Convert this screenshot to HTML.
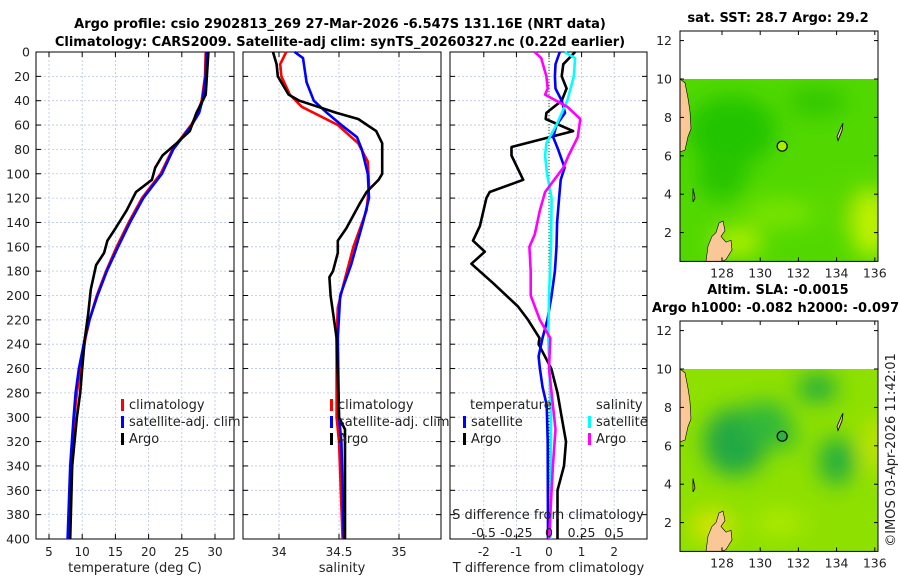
<!DOCTYPE html>
<html><head><meta charset="utf-8"><style>
body{margin:0;background:#fff;font-family:"Liberation Sans","DejaVu Sans",sans-serif}
svg text{font-family:"DejaVu Sans","Liberation Sans",sans-serif}
</style></head><body>
<svg id="c" width="900" height="580" viewBox="0 0 900 580" xmlns="http://www.w3.org/2000/svg">
<defs>
<filter id="bl" x="-50%" y="-50%" width="200%" height="200%"><feGaussianBlur stdDeviation="11"/></filter>
<clipPath id="m1"><rect x="680" y="79" width="198" height="182"/></clipPath>
<clipPath id="m2"><rect x="680" y="369" width="198" height="182"/></clipPath>
</defs>
</svg>
<script>
// ---- data ----
const tDepth=[0,20,40,50,60,80,100,120,140,160,180,200,220,235,260,280,300,340,400];
const tSat=[28.7,28.6,28.1,27.6,26.5,23.7,22.0,19.2,17.2,15.4,13.7,12.3,11.1,10.4,9.5,9.0,8.7,8.2,7.8];
const tClim=[28.6,28.5,28.0,27.4,26.4,23.6,21.8,19.0,17.0,15.2,13.6,12.2,11.1,10.5,9.7,9.2,8.8,8.3,7.9];
const aDepth=[0,35,50,65,75,85,95,105,115,130,145,155,165,175,195,215,235,260,280,300,340,400];
const tArgo=[29.0,28.6,27.2,26.2,24.2,22.1,21.0,20.5,18.1,16.7,15.0,13.8,13.3,12.1,11.3,10.9,10.4,10.0,9.7,9.2,8.5,8.2];
const sDepthA=[0,10,20,35,40,50,55,65,75,100,105,115,125,145,155,165,180,185,200,235,300,310,400];
const sArgo=[33.95,33.98,33.99,34.08,34.17,34.48,34.66,34.81,34.86,34.86,34.83,34.73,34.67,34.56,34.49,34.49,34.45,34.42,34.43,34.48,34.50,34.55,34.55];
const sDepthC=[0,10,20,35,45,60,75,90,110,130,160,175,190,210,235,300,320,400];
const sClim=[34.06,34.01,34.02,34.09,34.19,34.49,34.66,34.74,34.75,34.73,34.62,34.58,34.54,34.49,34.48,34.48,34.50,34.53];
const sDepthS=[0,5,25,40,50,60,70,80,100,120,140,175,200,235,300,320,400];
const sSat=[34.13,34.20,34.23,34.29,34.40,34.52,34.65,34.69,34.74,34.75,34.70,34.60,34.51,34.49,34.50,34.52,34.54];
const dDepthTA=[0,10,20,30,40,50,55,65,78,85,105,115,120,143,155,164,174,190,209,220,235,240,260,280,300,320,340,360,400];
const dTArgo=[0.8,0.44,0.39,0.54,0.39,-0.08,-0.1,0.74,-1.15,-1.15,-0.79,-1.82,-1.92,-2.12,-2.33,-1.97,-2.38,-1.71,-0.95,-0.64,-0.29,-0.32,0.07,0.26,0.39,0.52,0.46,0.26,0.26];
const dDepthTS=[0,10,20,30,40,50,60,70,80,95,105,120,140,160,180,200,220,235,250,260,275,290,320,400];
const dTSat=[0.33,0.2,0.18,0.2,0.39,0.49,0.23,0.13,0.28,0.48,0.36,0.31,0.25,0.23,0.18,0.08,-0.05,-0.2,-0.32,-0.28,-0.2,-0.07,-0.04,-0.03];
const dDepthSS=[0,5,20,40,60,75,85,100,120,160,200,235,300,400];
const dSSat=[0.12,0.2,0.19,0.14,0.057,-0.02,-0.03,-0.015,0.02,0.015,0,-0.005,0.015,0.01];
const dDepthSA=[0,5,20,30,35,45,55,70,85,95,105,115,130,150,160,180,200,220,235,260,290,310,340,400];
const dSArgo=[-0.11,-0.06,-0.02,-0.01,-0.03,0.14,0.24,0.22,0.15,0.11,0.04,-0.03,-0.07,-0.11,-0.15,-0.14,-0.14,-0.07,0.01,0,0.03,0.05,0.03,0];
const depthTicks=[0,20,40,60,80,100,120,140,160,180,200,220,240,260,280,300,320,340,360,380,400];
const tTicks=[5,10,15,20,25,30];
const sTicks=[34,34.5,35];
const dTTicks=[-2,-1,0,1,2];
const dSTickLabels=["-0.5","-0.25","0","0.25","0.5"];
const dSTicks=[-0.5,-0.25,0,0.25,0.5];
const lonTicks=[128,130,132,134,136];
const latTicks=[2,4,6,8,10,12];

// ---- scales ----
const Y0=52, Y1=539;
const yD=d=>Y0+(d/400)*(Y1-Y0);
const xT=t=>49+(t-5)*6.64;
const xS=s=>279+(s-34)*120;
const xDT=v=>549+v*32.6;
const xDS=v=>549+v*130.4;
const xLon=l=>722+(l-128)*19.1;
const yLat1=l=>79-(l-10)*19.2;
const yLat2=l=>369-(l-10)*19.2;

const svg=document.getElementById('c');
const NS='http://www.w3.org/2000/svg';
function el(tag,attrs,parent){const e=document.createElementNS(NS,tag);for(const k in attrs)e.setAttribute(k,attrs[k]);(parent||svg).appendChild(e);return e;}
function txt(x,y,s,attrs,parent){const e=el('text',Object.assign({x:x,y:y,'font-size':12,fill:'#222'},attrs||{}),parent);e.textContent=s;return e;}

function panel(name,x0,x1,xticks,xf,labels,xlabel){
  const g=el('g',{});
  
  
  xticks.forEach((t,i)=>{const x=xf(t);
    el('line',{x1:x,x2:x,y1:Y0,y2:Y1,stroke:'#b8c4e8','stroke-width':0.8,'stroke-dasharray':'2,2'},g);
    el('line',{x1:x,x2:x,y1:Y1,y2:Y1-5,stroke:'#000'},g);
    el('line',{x1:x,x2:x,y1:Y0,y2:Y0+5,stroke:'#000'},g);
    if(labels){const l=txt(x,556,labels[i],{'text-anchor':'middle'},g);
      
      }
  });
  depthTicks.forEach(d=>{const y=yD(d);
    el('line',{x1:x0,x2:x1,y1:y,y2:y,stroke:'#b8c4e8','stroke-width':0.8,'stroke-dasharray':'2,2'},g);
    el('line',{x1:x0,x2:x0+5,y1:y,y2:y,stroke:'#000'},g);
    el('line',{x1:x1,x2:x1-5,y1:y,y2:y,stroke:'#000'},g);
  });
  el('rect',{x:x0,y:Y0,width:x1-x0,height:Y1-Y0,fill:'none',stroke:'#000','stroke-width':1},g);
  if(xlabel){const l=txt((x0+x1)/2,572,xlabel,{'text-anchor':'middle','font-size':13},g);
    
    }
  return g;
}
function line(name,xs,ds,xf,color){
  const p=xs.map((v,i)=>xf(v).toFixed(1)+','+yD(ds[i]).toFixed(1)).join(' ');
  const e=el('polyline',{points:p,fill:'none',stroke:color,'stroke-width':2.6,'stroke-linejoin':'round'});
  
  
  return e;
}
function legend(x,y,color,label,name){
  const g=el('g',{});
  
  
  el('rect',{x:x,y:y-10,width:3,height:12,fill:color},g);
  txt(x+8,y,label,{'font-size':13},g);
}

const t1=txt(340,28,'Argo profile: csio 2902813_269 27-Mar-2026 -6.547S 131.16E (NRT data)',{'text-anchor':'middle','font-size':13,'font-weight':'bold',fill:'#000'});
 
const t2=txt(340,46,'Climatology: CARS2009. Satellite-adj clim: synTS_20260327.nc (0.22d earlier)',{'text-anchor':'middle','font-size':13,'font-weight':'bold',fill:'#000'});
 

depthTicks.forEach(d=>{const l=txt(30,yD(d)+4.5,String(d),{'text-anchor':'end','font-size':12.5});
  
  });

panel('temperature-panel',36,234,tTicks,xT,tTicks.map(String),'temperature (deg C)');
line('temp-climatology-line',tClim,tDepth,xT,'#f00');
line('temp-satellite-line',tSat,tDepth,xT,'#00f');
line('temp-argo-line',tArgo,aDepth,xT,'#000');
legend(121,409,'#f00','climatology','legend-climatology');
legend(121,426,'#00f','satellite-adj. clim','legend-satellite');
legend(121,443,'#000','Argo','legend-argo');

panel('salinity-panel',243,441,sTicks,xS,['34','34.5','35'],'salinity');
line('sal-climatology-line',sClim,sDepthC,xS,'#f00');
line('sal-satellite-line',sSat,sDepthS,xS,'#00f');
line('sal-argo-line',sArgo,sDepthA,xS,'#000');
legend(330,409,'#f00','climatology','legend-sal-climatology');
legend(330,426,'#00f','satellite-adj. clim','legend-sal-satellite');
legend(330,443,'#000','Argo','legend-sal-argo');

panel('difference-panel',450,647,dTTicks,xDT,dTTicks.map(String),'T difference from climatology');
el('line',{x1:xDT(0),x2:xDT(0),y1:Y0,y2:Y1,stroke:'#060','stroke-width':1,'stroke-dasharray':'1,2'});
line('dT-argo-line',dTArgo,dDepthTA,xDT,'#000');
line('dT-satellite-line',dTSat,dDepthTS,xDT,'#00f');
line('dS-satellite-line',dSSat,dDepthSS,xDS,'#0ff');
line('dS-argo-line',dSArgo,dDepthSA,xDS,'#f0f');
txt(470,409,'temperature',{'font-size':13});
txt(596,409,'salinity',{'font-size':13});
legend(463,426,'#00f','satellite','legend-dT-satellite');
legend(463,443,'#000','Argo','legend-dT-argo');
legend(588,426,'#0ff','satellite','legend-dS-satellite');
legend(588,443,'#f0f','Argo','legend-dS-argo');
const sl=txt(548,519,'S difference from climatology',{'text-anchor':'middle','font-size':13});
 
dSTicks.forEach((v,i)=>{const l=txt(xDS(v),537,dSTickLabels[i],{'text-anchor':'middle','font-size':12.5});
  
  });

const land='#f9c896';
function map(name,yLat,clip,blobs,base,markerFill){
  const g=el('g',{});
  
  
  const gc=el('g',{'clip-path':'url(#'+clip+')'},g);
  el('rect',{x:680,y:yLat(10),width:198,height:yLat(0.5)-yLat(10),fill:base},gc);
  const gb=el('g',{filter:'url(#bl)'},gc);
  blobs.forEach(b=>el('ellipse',{cx:xLon(b[0]),cy:yLat(b[1]),rx:b[2],ry:b[3],fill:b[4]},gb));
  el('path',{d:`M680 ${yLat(10)} L685 ${yLat(9.8)} L688 ${yLat(9)} L690 ${yLat(8.3)} L691 ${yLat(7.4)} L688 ${yLat(7)} L685 ${yLat(6.3)} L680 ${yLat(6.2)} Z`,fill:land,stroke:'#000','stroke-width':0.6},gc);
  el('path',{d:`M706 ${yLat(0.5)} L708 ${yLat(1.3)} L712 ${yLat(1.8)} L716 ${yLat(2.0)} L719 ${yLat(2.5)} L723 ${yLat(2.6)} L725 ${yLat(2.1)} L721 ${yLat(1.8)} L726 ${yLat(1.5)} L731 ${yLat(1.6)} L732 ${yLat(1.1)} L726 ${yLat(0.6)} L722 ${yLat(0.5)} Z`,fill:land,stroke:'#000','stroke-width':0.6},gc);
  el('path',{d:`M837 ${yLat(7)} L841 ${yLat(7.5)} L843 ${yLat(7.7)} L842 ${yLat(7.3)} L838 ${yLat(6.8)} Z`,fill:land,stroke:'#000','stroke-width':0.8},gc);
  el('path',{d:`M693 ${yLat(4.3)} L695 ${yLat(3.8)} L693 ${yLat(3.6)} Z`,fill:land,stroke:'#000','stroke-width':0.8},gc);
  const c=el('circle',{cx:xLon(131.15),cy:yLat(6.5),r:5,fill:markerFill,stroke:'#000','stroke-width':1.2},g);
  
  
  el('rect',{x:680,y:yLat(12.5),width:198,height:yLat(0.5)-yLat(12.5),fill:'none',stroke:'#000'},g);
  lonTicks.forEach(l=>{const x=xLon(l);
    el('line',{x1:x,x2:x,y1:yLat(0.5),y2:yLat(0.5)-4,stroke:'#000'},g);
    el('line',{x1:x,x2:x,y1:yLat(12.5),y2:yLat(12.5)+4,stroke:'#000'},g);
    txt(x,yLat(0.5)+16,String(l),{'text-anchor':'middle','font-size':12.5},g);});
  latTicks.forEach(l=>{const y=yLat(l);
    el('line',{x1:680,x2:684,y1:y,y2:y,stroke:'#000'},g);
    el('line',{x1:878,x2:874,y1:y,y2:y,stroke:'#000'},g);
    txt(672,y+4.5,String(l),{'text-anchor':'end','font-size':12.5},g);});
}
map('sst-map',yLat1,"m1",[
  [128.5,7.3,45,35,'#20c400'],[133,8.8,30,15,'#30c800'],[128,5,25,25,'#26c400'],
  [135.8,2.5,20,35,'#c0f200'],[128.8,1.5,25,15,'#b0ee00'],[131,3,35,14,'#7ae400'],[134,3.5,20,20,'#5ad800']
],'#52d800','#a8ee00');
map('sla-map',yLat2,"m2",[
  [128.7,6.2,32,34,'#22a844'],[130.2,7.3,26,20,'#30b83a'],[133,9,20,14,'#24ac40'],[134,5.2,18,24,'#26ae40'],[131.2,6.5,14,14,'#34bc34'],
  [127.5,1.8,22,16,'#d8e400'],[136,6,8,28,'#d8e400'],[131,2,25,12,'#b0ea00']
],'#8ee000','#2eb040');
const mt1=txt(778,22,'sat. SST: 28.7 Argo: 29.2',{'text-anchor':'middle','font-size':13,'font-weight':'bold',fill:'#000'});
 
const mt2=txt(778,294,'Altim. SLA: -0.0015',{'text-anchor':'middle','font-size':13,'font-weight':'bold',fill:'#000'});
 
const mt3=txt(652,312,'Argo h1000: -0.082 h2000: -0.097',{'text-anchor':'start','font-size':13,'font-weight':'bold',fill:'#000'});
 
const cr=txt(0,0,'©IMOS 03-Apr-2026 11:42:01',{'text-anchor':'middle','font-size':13,transform:'translate(895,450) rotate(-90)'});
 
</script>
</body></html>
